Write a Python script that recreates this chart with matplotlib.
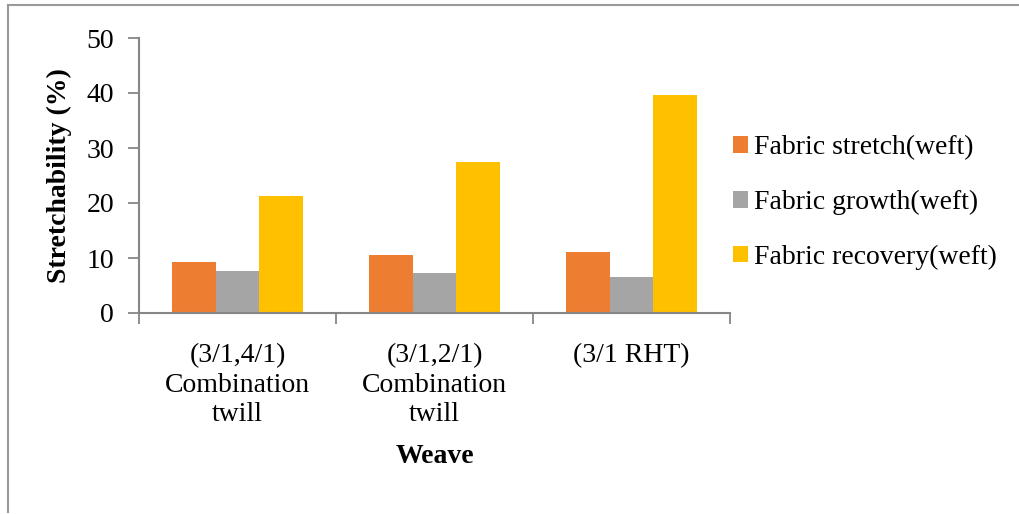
import matplotlib
matplotlib.use("Agg")
import matplotlib.pyplot as plt
import numpy as np
from matplotlib.lines import Line2D

categories = ["(3/1,4/1)\nCombination\ntwill", "(3/1,2/1)\nCombination\ntwill", "(3/1 RHT)"]
series_names = ["Fabric stretch(weft)", "Fabric growth(weft)", "Fabric recovery(weft)"]
stretch = [9.3, 10.6, 11.1]
growth = [7.7, 7.3, 6.6]
recovery = [21.3, 27.5, 39.7]
colors = ["#ED7D31", "#A5A5A5", "#FFC000"]
yticks = [0, 10, 20, 30, 40, 50]

plt.rcParams['font.family'] = ['Liberation Serif', 'DejaVu Serif']
FS = 20

fig = plt.figure(figsize=(10.19, 5.14), dpi=100)
ax = fig.add_axes([139/1019, 1-313/514, (730-139)/1019, (313-38)/514])

x = np.arange(len(categories))
w = 0.223
for i, (vals, name) in enumerate(zip([stretch, growth, recovery], series_names)):
    ax.bar(x + (i-1)*w, vals, w, color=colors[i], label=name, edgecolor='none')

ax.set_xlim(-0.5, len(categories)-0.5)
ax.set_ylim(0, 50)
ax.set_yticks(yticks)
ax.set_yticklabels([str(t) for t in yticks], fontsize=FS)
ax.set_xticks(np.arange(-0.5, len(categories), 1.0))
ax.set_xticklabels([])
ax.set_xticks(x, minor=True)
ax.set_xticklabels(categories, minor=True, fontsize=FS, linespacing=1.22)
ax.tick_params(axis='x', which='minor', length=0, pad=22)
ax.tick_params(axis='x', which='major', length=8, width=1.3, color='#868686', direction='out')
ax.tick_params(axis='y', length=8, width=1.3, color='#868686', direction='out', pad=10)

for s in ['top', 'right']:
    ax.spines[s].set_visible(False)
for s in ['left', 'bottom']:
    ax.spines[s].set_color('#868686')
    ax.spines[s].set_linewidth(1.5)

ax.set_xlabel("Weave", fontsize=FS, fontweight='bold', labelpad=12)
ax.set_ylabel("Stretchability (%)", fontsize=FS, fontweight='bold', labelpad=10)

leg = ax.legend(loc='upper left', bbox_to_anchor=(722/1019, 1-124/514), bbox_transform=fig.transFigure,
                frameon=False, fontsize=FS, handlelength=0.55, handleheight=0.55,
                handletextpad=0.2, labelspacing=1.07, borderaxespad=0)

fig.add_artist(Line2D([8/1019, 1018/1019], [1-5/514, 1-5/514], transform=fig.transFigure, color='#999999', lw=1.5))
fig.add_artist(Line2D([8/1019, 8/1019], [1-5/514, 1-512/514], transform=fig.transFigure, color='#999999', lw=1.5))

fig.savefig("out.png", dpi=100)
